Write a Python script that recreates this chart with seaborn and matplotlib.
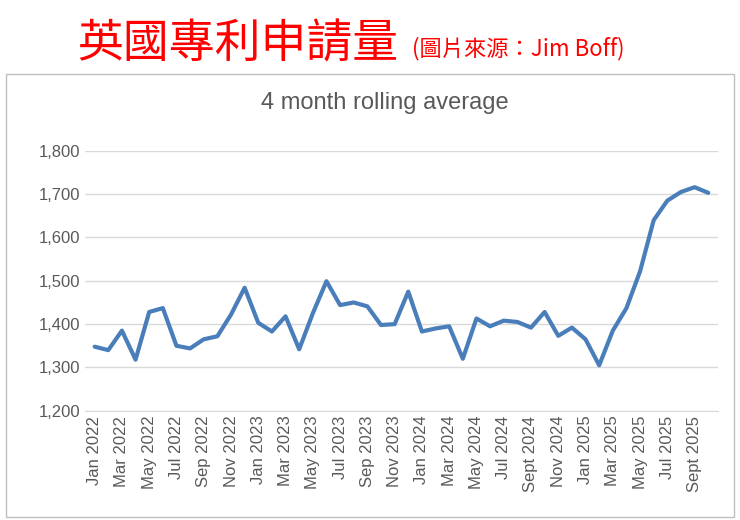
import numpy as np
import pandas as pd
import matplotlib
matplotlib.use('agg')
import matplotlib.pyplot as plt
import seaborn as sns

sns.set_style('white')
plt.rcParams['font.family'] = ['Liberation Sans', 'Noto Sans CJK TC', 'DejaVu Sans']

months = ['Jan', 'Feb', 'Mar', 'Apr', 'May', 'Jun', 'Jul', 'Aug', 'Sep', 'Oct', 'Nov', 'Dec']
years = [2022, 2023, 2024, 2025]
labels = []
for y in years:
    for m in months:
        name = m
        if m == 'Sep' and y >= 2024:
            name = 'Sept'
        labels.append(f'{name} {y}')
labels = labels[:46]

values = [1348, 1340, 1385, 1318, 1428, 1437, 1350, 1344, 1365, 1372, 1422, 1484,
          1403, 1383, 1418, 1342, 1425, 1499, 1444, 1450, 1441, 1398, 1400, 1475,
          1383, 1390, 1395, 1320, 1413, 1395, 1408, 1405, 1392, 1428, 1373, 1392,
          1365, 1305, 1385, 1437, 1522, 1640, 1685, 1705, 1716, 1703]

df = pd.DataFrame({'idx': np.arange(len(values)), 'value': values})

fig = plt.figure(figsize=(7.4, 5.2), dpi=100)
fig.text(0.105, 0.915, '英國專利申請量', color='#ff0000', fontsize=33, va='center',
         family=['Noto Sans CJK TC'])
fig.text(0.557, 0.907, '(圖片來源：Jim Boff)', color='#ff0000', fontsize=16, va='center',
         family=['Noto Sans CJK TC'])

# grey chart frame
frame = plt.Rectangle((0.008, 0.005), 0.984, 0.852, transform=fig.transFigure,
                      fill=False, edgecolor='#bfbfbf', lw=1)
fig.add_artist(frame)

ax = fig.add_axes([0.115, 0.21, 0.855, 0.5])
sns.lineplot(data=df, x='idx', y='value', ax=ax, color='#4a7ebb', lw=3)
ax.set_ylim(1200, 1800)
ax.set_xlim(-0.7, len(values) - 0.3)
ax.set_yticks(range(1200, 1801, 100))
ax.set_yticklabels([f'{v:,}' for v in range(1200, 1801, 100)], color='#595959', fontsize=12)
ax.set_xticks(df['idx'][::2])
ax.set_xticklabels(labels[::2], rotation=90, color='#595959', fontsize=12)
ax.grid(axis='y', color='#d9d9d9', lw=1)
ax.set_axisbelow(True)
for s in ['top', 'right', 'left']:
    ax.spines[s].set_visible(False)
ax.spines['bottom'].set_color('#d9d9d9')
ax.tick_params(length=0)
ax.set_xlabel('')
ax.set_ylabel('')
fig.text(0.52, 0.79, '4 month rolling average', ha='center', color='#595959', fontsize=17)

fig.savefig('out.png', dpi=100)
